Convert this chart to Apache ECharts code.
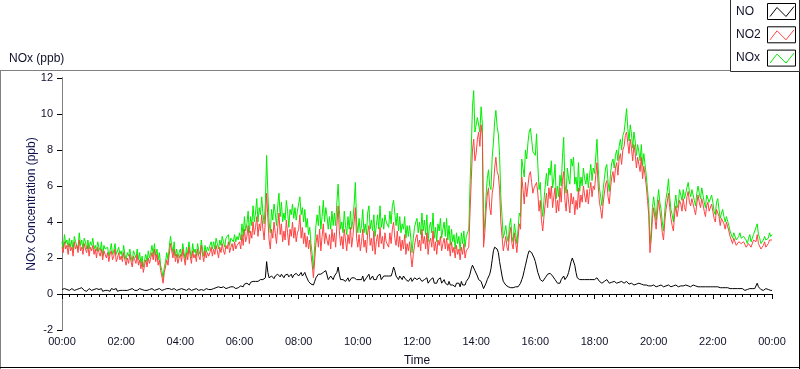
<!DOCTYPE html>
<html>
<head>
<meta charset="utf-8">
<script src="https://cdn.jsdelivr.net/npm/echarts@6/dist/echarts.min.js"></script>
<style>
html,body{margin:0;padding:0;background:#fff;}
#chart{width:800px;height:369px;}
</style>
</head>
<body>
<div id="chart"></div>
<script>
// Sample spacing (minutes) of the readings below, starting at 00:00; 24 readings per hour
const stepMinutes = 2.5;

// NO2 (ppb)
const no2 = [
  2.6,2.3,2.9,2.5,2.7,2.2,2.8,2.4,2.6,2.1,2.9,2.5,2.7,2.3,3.0,2.4,2.6,2.2,2.8,2.5,2.3,2.7,2.1,2.6,
  2.4,2.7,2.2,2.5,2.0,2.6,2.3,2.1,2.5,1.9,2.4,2.2,2.0,2.3,1.8,2.2,2.4,1.9,2.1,2.5,1.8,2.0,2.3,1.9,
  2.1,1.8,2.3,1.9,1.6,2.0,1.7,2.2,1.8,1.5,2.1,1.9,1.7,2.2,1.6,1.9,1.4,1.8,1.2,1.6,1.9,1.5,2.0,1.7,
  2.0,2.3,1.9,2.5,1.8,2.2,1.6,1.9,1.3,1.0,0.6,1.2,1.5,1.9,1.6,2.2,2.8,2.4,2.0,2.5,1.8,2.2,1.7,2.0,
  2.2,1.8,2.5,2.0,1.6,2.3,1.9,2.6,2.1,1.7,2.4,2.0,2.2,1.8,2.5,2.1,1.9,2.7,2.2,1.8,2.4,2.0,2.3,2.1,
  2.3,2.6,2.1,2.5,2.2,2.7,2.4,2.0,2.6,2.3,2.8,2.4,2.2,2.7,2.5,2.9,2.3,2.6,2.8,2.4,2.9,2.5,2.7,2.6,
  2.9,2.5,3.3,2.7,3.6,2.9,3.2,3.8,2.8,3.5,3.1,4.0,3.3,3.7,4.3,3.2,3.9,3.5,4.4,3.6,3.0,4.1,5.6,4.2,
  3.0,2.5,3.6,3.1,4.0,3.4,2.8,3.7,4.5,3.3,3.9,2.9,3.5,3.0,4.1,3.4,2.7,3.6,3.2,4.0,3.1,3.7,2.9,3.4,
  3.6,4.4,3.1,3.7,2.8,3.4,2.6,3.2,2.5,3.0,2.2,1.6,0.9,1.9,2.8,3.3,2.6,3.6,2.4,3.2,3.9,2.8,3.4,3.0,
  2.7,3.3,2.5,3.6,2.9,3.4,2.6,3.8,4.9,3.5,2.7,3.2,2.5,3.6,3.0,2.4,3.3,2.8,3.7,2.6,3.2,4.0,4.8,3.1,
  2.6,3.3,2.4,2.9,3.6,2.6,3.0,2.3,3.4,3.8,2.7,3.1,2.4,3.5,2.2,2.9,3.3,2.6,3.7,2.8,3.2,2.5,3.4,2.9,
  3.0,2.6,3.4,2.8,3.6,4.0,3.1,2.7,3.5,2.6,3.2,2.4,3.0,2.5,3.3,2.2,2.8,2.4,2.9,2.1,1.5,2.2,2.7,3.1,
  3.3,2.6,3.0,2.4,3.6,2.8,3.2,2.5,3.4,2.2,2.9,3.1,2.6,3.5,2.4,2.9,2.2,3.0,2.7,3.2,2.4,2.8,3.1,2.5,
  3.1,2.4,2.8,2.1,2.9,2.3,2.6,2.0,2.7,2.2,2.5,1.9,2.6,2.2,2.8,2.0,2.4,2.3,2.6,4.5,6.3,8.0,8.6,7.4,
  7.8,8.6,9.0,8.2,9.4,8.8,2.6,3.4,4.6,5.5,5.9,4.8,4.4,5.6,6.0,7.0,7.6,6.8,6.6,5.8,4.0,3.2,2.4,2.8,
  3.2,2.6,2.4,3.3,3.7,2.8,2.5,3.4,2.9,2.3,3.1,3.9,3.6,6.5,5.8,5.0,6.2,5.4,6.0,6.6,6.8,6.2,5.6,5.9,
  5.8,6.2,5.6,4.6,5.2,4.1,3.5,4.3,5.0,5.6,4.8,5.9,5.3,6.0,4.8,5.4,5.9,4.5,5.2,4.6,5.9,5.1,6.3,6.8,
  5.2,4.6,5.8,5.1,4.5,5.6,5.0,5.4,4.4,5.2,4.7,5.9,4.8,5.5,5.1,6.0,5.5,5.1,5.8,5.0,5.7,6.2,5.4,6.0,
  5.8,6.6,7.3,6.0,5.1,4.7,4.2,5.0,5.6,6.1,6.3,5.4,5.0,5.9,6.5,6.8,6.2,7.0,7.3,6.6,7.5,7.8,7.2,8.0,
  8.2,8.8,9.0,8.4,7.8,8.6,8.1,7.4,8.3,7.8,7.0,7.6,7.2,6.8,7.6,6.4,7.1,6.6,6.0,5.2,4.4,2.3,3.0,4.2,
  4.8,4.2,3.6,4.5,5.2,4.6,4.1,3.4,3.0,4.0,4.7,5.1,5.6,4.8,4.2,3.8,3.5,4.4,4.9,4.3,4.4,5.2,5.0,4.6,
  5.3,4.8,4.6,5.4,5.7,5.1,4.9,5.3,5.2,4.7,4.4,5.0,5.5,5.1,4.8,5.3,5.0,4.6,4.3,4.9,5.1,4.6,4.7,5.0,
  4.6,4.2,4.0,4.7,4.8,4.3,3.8,4.2,4.3,3.9,3.6,4.0,3.9,3.5,3.2,3.0,2.8,3.1,3.1,2.7,2.6,2.9,3.0,2.8,
  2.7,2.9,3.0,2.6,2.5,2.8,2.9,2.6,2.6,3.0,3.1,2.9,3.3,2.8,2.7,2.5,2.4,2.7,2.9,2.6,2.6,2.8,3.0,2.9,
  3.0
];

// NO (ppb)
const no = [
  .25,.15,.3,.2,.25,.35,.2,.15,.3,.25,.2,.3,.25,.15,.3,.2,.35,.25,.2,.3,.15,.25,.3,.2,
  .2,.3,.25,.15,.3,.2,.25,.2,.3,.15,.25,.2,.3,.2,.25,.15,.3,.2,.25,.2,.3,.15,.25,.2,
  .25,.2,.3,.2,.25,.2,.3,.25,.2,.3,.25,.2,.3,.2,.25,.3,.2,.25,.3,.2,.25,.2,.3,.25,
  .2,.3,.25,.2,.3,.25,.2,.3,.25,.2,.3,.25,.2,.3,.25,.3,.35,.25,.2,.3,.25,.2,.3,.25,
  .25,.3,.2,.25,.3,.2,.25,.3,.25,.2,.3,.25,.2,.3,.25,.2,.3,.25,.3,.2,.25,.3,.2,.25,
  .3,.25,.35,.3,.25,.35,.3,.4,.3,.35,.3,.4,.35,.3,.4,.35,.3,.4,.35,.4,.35,.3,.4,.35,
  .4,.45,.5,.4,.55,.5,.6,.55,.5,.65,.6,.7,.65,.7,.8,.7,.75,.8,.9,.8,.85,.9,1.8,1.2,
  .9,.8,1.0,.9,.85,1.0,.9,1.1,1.0,.95,1.1,1.0,.9,1.05,1.0,1.1,.95,1.0,1.1,.9,1.05,1.0,1.15,1.1,
  1.0,1.1,1.2,1.0,1.1,1.2,1.0,.9,.7,.6,.55,.5,.5,.7,.9,1.0,1.1,1.2,1.1,1.0,1.2,1.1,1.3,1.2,
  .8,.9,1.0,.9,.8,1.0,1.1,1.2,1.5,1.1,.8,.7,.8,.9,.7,.8,.9,.7,.8,.9,.8,.9,1.0,.8,
  .7,.8,.9,.8,1.0,.7,.8,.9,1.0,1.1,.8,.9,1.0,.8,.9,.8,1.0,.9,1.1,.8,.9,1.0,.9,1.0,
  .9,1.0,1.1,1.0,1.2,1.5,1.3,1.0,.9,.8,1.0,.9,.8,1.0,.9,.8,.9,.7,.8,.9,.7,.8,.9,.8,
  .8,.7,.9,.8,.7,.6,.8,.7,.9,.6,.7,.8,.7,.9,.6,.7,.6,.8,.7,.9,.6,.7,.8,.6,
  .6,.5,.7,.5,.6,.5,.6,.4,.6,.5,.6,.4,.7,.5,.6,.5,.7,.8,.9,1.1,1.4,1.6,1.7,1.3,
  1.2,1.0,.8,.7,.7,.5,.3,.4,.6,.8,.9,1.1,1.4,1.9,2.4,2.6,2.6,2.5,2.3,1.8,1.4,1.0,.7,.6,
  .5,.45,.4,.35,.35,.3,.35,.3,.4,.35,.4,.5,.6,.8,1.0,1.3,1.6,1.9,2.2,2.4,2.5,2.3,2.2,2.0,
  1.8,1.5,1.2,1.0,.8,.7,.7,.8,.9,1.0,1.1,1.0,1.15,1.1,1.0,.9,.8,.7,.6,.7,.6,.8,.9,1.0,
  .8,.9,1.0,1.2,1.5,1.8,2.0,2.1,1.6,1.2,.9,.9,.8,.9,.8,.85,.8,.9,.8,.85,.8,.9,.8,.85,
  .8,.9,.9,.8,.7,.65,.6,.65,.7,.75,.8,.7,.6,.7,.65,.6,.7,.65,.6,.7,.65,.6,.7,.65,
  .6,.65,.7,.6,.55,.5,.6,.55,.5,.6,.55,.5,.6,.5,.55,.6,.5,.55,.5,.5,.45,.4,.45,.5,
  .5,.45,.4,.5,.45,.4,.5,.45,.4,.5,.45,.5,.5,.45,.4,.5,.45,.4,.5,.45,.4,.5,.45,.5,
  .45,.4,.5,.4,.45,.5,.4,.45,.5,.4,.45,.5,.4,.45,.4,.5,.4,.45,.4,.5,.4,.45,.4,.45,
  .4,.35,.4,.35,.4,.3,.35,.3,.35,.3,.35,.3,.35,.3,.3,.25,.3,.25,.3,.25,.3,.25,.3,.25,
  .3,.25,.2,.3,.25,.2,.3,.2,.3,.25,.3,.35,.6,.4,.3,.25,.3,.2,.25,.3,.2,.25,.3,.2,
  .2
];

// NOx (ppb)
const nox = [
  2.9,2.5,3.3,2.8,3.0,2.6,3.1,2.6,3.0,2.4,3.2,2.9,3.0,2.5,3.4,2.7,3.0,2.5,3.1,2.9,2.5,3.0,2.5,2.9,
  2.7,3.1,2.5,2.7,2.4,2.9,2.6,2.4,2.9,2.1,2.7,2.5,2.4,2.6,2.1,2.4,2.8,2.2,2.4,2.8,2.2,2.2,2.6,2.2,
  2.4,2.0,2.7,2.2,1.9,2.3,2.1,2.5,2.1,1.8,2.4,2.2,2.0,2.5,1.9,2.3,1.7,2.1,1.5,1.9,2.2,1.8,2.4,2.0,
  2.3,2.7,2.2,2.8,2.1,2.5,1.9,2.3,1.6,1.3,0.9,1.5,1.8,2.3,1.9,2.6,3.2,2.7,2.3,2.9,2.1,2.5,2.0,2.3,
  2.5,2.1,2.8,2.3,1.9,2.6,2.2,2.9,2.4,2.0,2.8,2.3,2.5,2.1,2.8,2.4,2.2,3.0,2.5,2.1,2.7,2.3,2.6,2.4,
  2.7,2.9,2.5,2.9,2.5,3.1,2.8,2.5,3.0,2.7,3.2,2.9,2.6,3.1,3.0,3.3,2.7,3.1,3.2,2.9,3.3,2.9,3.2,3.0,
  3.4,3.0,3.9,3.2,4.3,3.5,3.9,4.6,3.4,4.3,3.8,4.9,4.0,4.5,5.3,4.0,4.8,4.4,5.4,4.5,3.9,5.1,7.7,5.6,
  4.0,3.4,4.7,4.1,5.0,4.5,3.8,4.9,5.6,4.3,5.1,4.0,4.5,4.1,5.2,4.6,3.7,4.7,4.4,5.0,4.2,4.8,4.1,4.6,
  4.7,5.4,4.4,4.8,4.0,4.7,3.7,4.2,3.3,3.7,2.8,2.2,1.4,2.7,3.8,4.4,3.8,4.9,3.6,4.3,5.2,4.0,4.8,4.3,
  3.6,4.3,3.6,4.6,3.8,4.5,3.8,5.1,6.1,4.7,3.6,4.0,3.4,4.6,3.8,3.3,4.3,3.6,4.6,3.6,4.1,5.0,6.2,4.0,
  3.4,4.2,3.4,3.8,4.7,3.4,3.9,3.3,4.5,4.9,3.6,4.1,3.5,4.4,3.2,3.8,4.4,3.6,4.9,3.7,4.2,3.6,4.4,4.0,
  4.0,3.7,4.6,3.9,4.9,5.2,4.5,3.8,4.5,3.5,4.3,3.4,3.9,3.6,4.3,3.1,3.8,3.2,3.8,3.1,2.3,3.1,3.7,4.0,
  4.2,3.4,4.0,3.3,4.5,3.5,4.1,3.3,4.4,2.9,3.7,4.0,3.4,4.5,3.1,3.7,2.9,3.9,3.5,4.2,3.1,3.6,4.0,3.2,
  4.2,3.0,3.8,2.7,3.6,2.9,3.3,2.5,3.4,2.8,3.2,2.4,3.4,2.8,3.5,2.6,3.2,3.2,3.6,6.0,8.0,10.4,11.3,9.0,
  9.0,9.8,9.8,9.0,10.4,9.5,3.3,4.0,5.4,6.4,6.9,6.0,5.8,7.6,8.4,9.6,10.2,9.3,8.9,7.7,5.4,4.3,3.1,3.4,
  3.8,3.2,2.9,3.8,4.2,3.2,2.9,3.9,3.4,2.8,3.6,4.5,4.3,7.5,7.0,6.5,8.0,7.5,8.4,9.0,9.2,8.6,7.9,8.0,
  7.7,8.9,7.2,5.8,6.2,4.9,4.3,5.2,6.0,6.7,6.0,7.0,6.6,7.4,5.9,6.4,7.2,5.3,6.0,5.4,6.6,6.0,7.6,8.7,
  6.1,5.6,7.0,6.4,6.1,7.5,7.1,7.6,6.1,6.5,5.7,7.3,5.7,6.5,6.0,7.0,6.4,6.1,6.7,5.9,6.6,7.2,6.3,7.0,
  6.7,7.6,8.6,7.0,5.9,5.4,4.9,5.8,6.4,7.0,7.2,6.2,5.7,6.7,7.3,7.5,7.0,7.7,8.0,7.4,8.2,8.6,8.0,8.8,
  9.0,9.6,10.3,9.2,8.5,9.4,8.9,8.1,9.0,8.5,7.7,8.3,7.9,7.4,8.3,7.1,7.8,7.2,6.6,5.8,5.0,2.8,3.5,4.8,
  5.4,4.8,4.1,5.1,5.8,5.1,4.7,4.0,3.5,4.6,5.3,5.7,6.4,5.4,4.7,4.4,4.0,5.0,5.5,4.8,5.0,5.8,5.5,5.2,
  5.8,5.3,5.2,5.9,6.2,5.7,5.4,5.8,5.8,5.2,4.9,5.6,6.0,5.6,5.3,5.9,5.5,5.1,4.8,5.5,5.6,5.1,5.2,5.5,
  5.1,4.6,4.4,5.1,5.3,4.7,4.2,4.5,4.7,4.3,4.0,4.3,4.3,3.8,3.5,3.3,3.1,3.4,3.5,3.0,2.9,3.2,3.4,3.1,
  3.1,3.2,3.3,3.0,2.8,3.1,3.3,2.9,3.0,3.3,3.5,3.4,3.9,3.3,3.1,2.8,2.8,3.0,3.2,3.0,2.9,3.1,3.4,3.2,
  3.3
];

const seriesNames = ['NO', 'NO2', 'NOx'];
const seriesColors = ['#000000', '#ff4343', '#00ee00'];

const toPairs = arr => arr.map((v, i) => [i * stepMinutes / 60, v]);
const pad = n => (n < 10 ? '0' : '') + n;
const txt = '#101028';
const FONT = '"Liberation Sans", Arial, sans-serif';

const chart = echarts.init(document.getElementById('chart'), null, {renderer: 'canvas'});

function legendGraphics() {
  const g = [];
  seriesNames.forEach((name, i) => {
    const by = 3.5 + i * 23.3;
    g.push({type: 'text', left: 736, top: by + 2, style: {text: name, font: '12px ' + FONT, fill: txt}, z: 10});
    g.push({type: 'rect', shape: {x: 767.5, y: by, width: 28, height: 16}, style: {fill: '#fff', stroke: '#000', lineWidth: 1}, z: 10});
    g.push({type: 'polyline', shape: {points: [[770, by + 13], [777, by + 4], [786, by + 13], [794, by + 3]]}, style: {stroke: seriesColors[i], lineWidth: 1, fill: null}, z: 11});
  });
  return g;
}

const option = {
  animation: false,
  backgroundColor: '#ffffff',
  textStyle: {fontFamily: FONT},
  title: {
    text: 'NOx (ppb)', left: 4, top: 48,
    textStyle: {fontSize: 12, fontWeight: 'normal', color: txt, fontFamily: FONT}
  },
  graphic: [
    {type: 'line', shape: {x1: 0, y1: 70.5, x2: 730, y2: 70.5}, style: {stroke: '#808080', lineWidth: 1}},
    {type: 'line', shape: {x1: 0.5, y1: 70, x2: 0.5, y2: 369}, style: {stroke: '#808080', lineWidth: 1}},
    {type: 'line', shape: {x1: 0, y1: 367.5, x2: 800, y2: 367.5}, style: {stroke: '#000', lineWidth: 1}},
    {type: 'line', shape: {x1: 799.5, y1: 0, x2: 799.5, y2: 369}, style: {stroke: '#000', lineWidth: 1}},
    {type: 'rect', shape: {x: 730.5, y: -1, width: 69, height: 72.5}, style: {fill: '#fff', stroke: '#303030', lineWidth: 1}},
    ...legendGraphics()
  ],
  grid: {left: 62, right: 28, top: 78, bottom: 39, containLabel: false, outerBoundsMode: 'none'},
  xAxis: [
    {
      type: 'value', min: 0, max: 24, interval: 2, position: 'bottom',
      name: 'Time', nameLocation: 'middle', nameGap: 25, nameMoveOverlap: false,
      nameTextStyle: {fontSize: 12, color: txt, fontFamily: FONT},
      axisLine: {show: true, lineStyle: {color: '#808080', width: 1}},
      axisTick: {show: true, length: 5, inside: false, lineStyle: {color: '#000'}},
      minorTick: {show: true, splitNumber: 8, length: 3, lineStyle: {color: '#000'}},
      axisLabel: {
        fontSize: 11, color: txt, margin: 6, fontFamily: FONT,
        formatter: v => pad(Math.round(v) % 24) + ':00'
      },
      splitLine: {show: false}
    },
    {
      type: 'value', min: 0, max: 24, position: 'top',
      axisLine: {show: true, lineStyle: {color: '#000', width: 1}},
      axisTick: {show: false}, axisLabel: {show: false}, splitLine: {show: false}
    }
  ],
  yAxis: [
    {
      type: 'value', min: -2, max: 12, interval: 2, position: 'left',
      name: 'NOx Concentration (ppb)', nameLocation: 'middle', nameGap: 24, nameMoveOverlap: false,
      nameRotate: 90,
      nameTextStyle: {fontSize: 12, color: '#101050', fontFamily: FONT},
      axisLine: {show: true, lineStyle: {color: '#000', width: 1}},
      axisTick: {show: true, length: 5, inside: false, lineStyle: {color: '#000'}},
      axisLabel: {fontSize: 11, color: txt, margin: 9, fontFamily: FONT},
      splitLine: {show: false}
    },
    {
      type: 'value', min: -2, max: 12, position: 'right',
      axisLine: {show: true, lineStyle: {color: '#808080', width: 1}},
      axisTick: {show: false}, axisLabel: {show: false}, splitLine: {show: false}
    }
  ],
  series: [
    {name: 'NOx', type: 'line', data: toPairs(nox), symbol: 'none', lineStyle: {width: 1, color: seriesColors[2]}, itemStyle: {color: seriesColors[2]}, z: 2},
    {name: 'NO2', type: 'line', data: toPairs(no2), symbol: 'none', lineStyle: {width: 1, color: seriesColors[1]}, itemStyle: {color: seriesColors[1]}, z: 3},
    {name: 'NO', type: 'line', data: toPairs(no), symbol: 'none', lineStyle: {width: 1, color: seriesColors[0]}, itemStyle: {color: seriesColors[0]}, z: 4}
  ]
};
chart.setOption(option);
</script>
</body>
</html>
